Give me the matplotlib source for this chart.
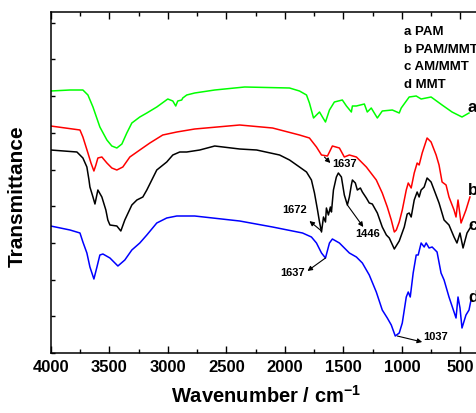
import matplotlib
matplotlib.use("Agg")
import matplotlib.pyplot as plt
from matplotlib.ticker import MultipleLocator

plt.rcParams['font.family'] = ['Liberation Sans', 'DejaVu Sans']
plt.rcParams['font.weight'] = 'bold'
plt.rcParams['mathtext.fontset'] = 'custom'
plt.rcParams['mathtext.rm'] = 'Liberation Sans:bold'
plt.rcParams['mathtext.bf'] = 'Liberation Sans:bold'

# ---- data (wavenumber cm-1, transmittance in arbitrary offset units) ----
pam_wn = [4000, 3835, 3725, 3682, 3639, 3580, 3520, 3478, 3435, 3392, 3350, 3307, 3239, 3179,
          3094, 3000, 2957, 2932, 2915, 2881, 2872, 2838, 2770, 2599, 2343, 1960, 1875, 1815,
          1790, 1755, 1730, 1704, 1679, 1653, 1619, 1577, 1509, 1474, 1432, 1423, 1389, 1321,
          1296, 1262, 1210, 1168, 1082, 1023, 1006, 938, 878, 836, 751, 657, 572, 487, 427]
pam_T = [262, 263, 263, 258, 246, 226, 213, 207, 205, 209, 220, 230, 236, 240,
         246, 254, 252, 247, 252, 253, 255, 258, 260, 263, 266, 265, 262, 258,
         250, 235, 238, 241, 236, 231, 243, 251, 253, 247, 241, 247, 247, 249,
         241, 245, 235, 242, 243, 240, 245, 256, 257, 254, 256, 248, 241, 236, 240]

pammmt_wn = [4000, 3750, 3725, 3682, 3656, 3631, 3614, 3597, 3563, 3520, 3478, 3435, 3384,
             3324, 3239, 3153, 3043, 2923, 2770, 2386, 2105, 1875, 1790, 1730, 1687, 1636,
             1594, 1534, 1492, 1449, 1389, 1304, 1219, 1168, 1125, 1091, 1065, 1048, 1023,
             997, 963, 946, 921, 895, 870, 853, 827, 785, 751, 708, 683, 657, 623, 598, 555,
             538, 521, 495, 453, 419]
pammmt_T = [227, 223, 216, 200, 190, 182, 188, 195, 196, 190, 185, 183, 186,
            196, 203, 210, 218, 221, 224, 228, 225, 218, 215, 206, 198, 197,
            207, 205, 196, 198, 196, 186, 173, 160, 146, 133, 121, 123, 131,
            143, 163, 170, 165, 180, 190, 188, 200, 215, 211, 198, 188, 171, 168, 156, 143,
            136, 153, 130, 143, 156]

ammmt_wn = [4000, 3776, 3725, 3691, 3673, 3665, 3639, 3622, 3597, 3563, 3529, 3512, 3494,
            3435, 3401, 3367, 3307, 3264, 3213, 3179, 3094, 3009, 2957, 2898, 2838, 2727,
            2599, 2386, 2241, 2045, 1960, 1875, 1815, 1773, 1747, 1721, 1704, 1687, 1670,
            1653, 1645, 1628, 1611, 1602, 1585, 1560, 1543, 1517, 1492, 1466, 1449, 1432,
            1423, 1398, 1381, 1355, 1338, 1304, 1279, 1253, 1210, 1168, 1133, 1108, 1065,
            1023, 980, 955, 938, 921, 895, 870, 853, 836, 810, 785, 751, 725, 683, 640,
            598, 555, 530, 504, 478, 444, 402]
ammmt_T = [203, 201, 195, 186, 173, 166, 156, 149, 163, 156, 143, 133, 128,
           127, 122, 133, 148, 153, 156, 163, 183, 191, 198, 201, 201, 203,
           207, 204, 203, 198, 193, 186, 181, 173, 160, 143, 131, 121, 136,
           131, 145, 138, 146, 141, 163, 176, 180, 176, 158, 148, 156, 168,
           173, 170, 163, 165, 161, 155, 150, 149, 140, 126, 118, 115, 104,
           112, 126, 139, 140, 136, 153, 161, 156, 163, 166, 175, 171, 163, 150, 133,
           128, 116, 110, 120, 105, 120, 128]

mmt_wn = [4000, 3835, 3750, 3725, 3691, 3665, 3631, 3605, 3580, 3554, 3494, 3426, 3367,
          3307, 3239, 3179, 3094, 3009, 2923, 2770, 2386, 2105, 1849, 1773, 1730, 1687,
          1653, 1619, 1594, 1534, 1449, 1389, 1338, 1279, 1219, 1168, 1125, 1091, 1057,
          1023, 997, 963, 946, 929, 904, 878, 861, 836, 810, 793, 768, 742, 700, 666, 640,
          598, 555, 538, 521, 504, 487, 453, 427, 410]
mmt_T = [127, 123, 120, 111, 100, 86, 74, 86, 98, 99, 95, 87, 93,
         103, 110, 118, 130, 135, 137, 137, 132, 126, 120, 116, 110, 100,
         95, 110, 114, 110, 100, 96, 90, 78, 61, 43, 35, 28, 17,
         20, 30, 56, 61, 56, 80, 98, 98, 110, 106, 110, 105, 106, 101, 80, 73,
         56, 41, 35, 56, 45, 25, 38, 43, 53]

legend_lines = ["a PAM", "b PAM/MMT", "c AM/MMT", "d MMT"]
curve_letters = ["a", "b", "c", "d"]
xtick_values = [4000, 3500, 3000, 2500, 2000, 1500, 1000, 500]

# ---- figure ----
W, H = 477, 413
fig = plt.figure(figsize=(W / 100, H / 100), dpi=100)
ax = fig.add_axes([50.7 / W, (H - 353) / H, 428.5 / W, 341 / H])

lw = 1.1
ax.plot(pam_wn, pam_T, color='#00ff00', lw=lw)
ax.plot(pammmt_wn, pammmt_T, color='#ff0000', lw=lw)
ax.plot(ammmt_wn, ammmt_T, color='black', lw=lw)
ax.plot(mmt_wn, mmt_T, color='#0000ff', lw=lw)

ax.set_xlim(4000, 340)
ax.set_ylim(0, 341)
ax.set_xticks(xtick_values)
ax.set_xticklabels([str(v) for v in xtick_values])
ax.xaxis.set_minor_locator(MultipleLocator(250))
ax.yaxis.set_major_locator(MultipleLocator(36.7))
ax.set_yticklabels([])
ax.tick_params(axis='x', which='major', direction='in', length=5, width=1, top=True,
               labelsize=12, pad=5)
ax.tick_params(axis='x', which='minor', direction='in', length=3, width=1, top=True)
ax.tick_params(axis='y', which='major', direction='in', length=3, width=1, right=False)
for s in ax.spines.values():
    s.set_linewidth(1.1)

ax.set_xlabel(r"Wavenumber / cm$^{\mathbf{-1}}$", fontsize=14.5, fontweight='bold', va='center')
ax.xaxis.set_label_coords(0.502, (353 - 396) / 341)
ax.set_ylabel("Transmittance", fontsize=15, fontweight='bold', va='center')
ax.yaxis.set_label_coords((17.5 - 50.7) / 428.5, (353 - 196.5) / 341)

# legend text block
for i, t in enumerate(legend_lines):
    ax.text(986, 321 - i * 17.5, t, fontsize=9.5, fontweight='bold', va='center', ha='left')

# curve letters
for letter, yv in zip(curve_letters, [246, 163, 128, 56]):
    ax.text(436, yv, letter, fontsize=12, fontweight='bold', va='center', ha='left')

# peak annotations
arrow = dict(arrowstyle='-|>', color='black', lw=0.8, mutation_scale=7, shrinkA=0, shrinkB=0)
ann = [
    ("1637", (1662, 196), (1611, 190), (1594, 189), 'left'),
    ("1672", (1687, 122), (1790, 132), (1918, 143), 'center'),
    ("1446", (1466, 148), (1330, 126), (1296, 119), 'center'),
    ("1637", (1653, 95), (1807, 82), (1935, 80), 'center'),
    ("1037", (1040, 17), (827, 11), (715, 16), 'center'),
]
for lab, tail, head, tpos, ha in ann:
    ax.annotate('', xy=head, xytext=tail, arrowprops=arrow)
    ax.text(tpos[0], tpos[1], lab, fontsize=8, fontweight='bold', ha=ha, va='center')

fig.savefig("out.png", dpi=100)
